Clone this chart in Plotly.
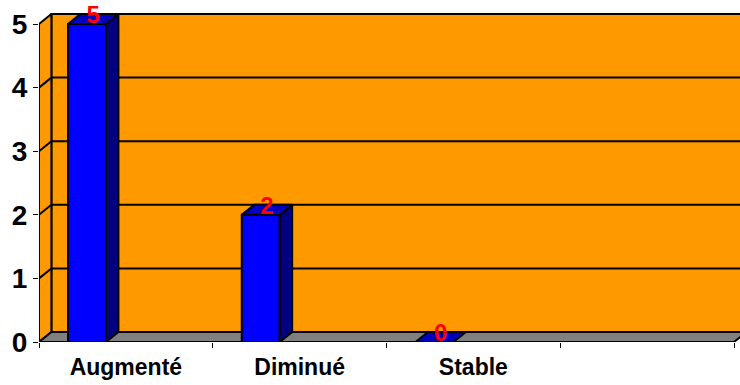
import plotly.graph_objects as go

# ---- data ----
categories = ["Augmenté", "Diminué", "Stable", ""]
values = [5, 2, 0]
y_ticks = [0, 1, 2, 3, 4, 5]

# ---- geometry of the pseudo-3D frame (in axis units) ----
W, H = 740, 385
PX_PER_CAT = 173.75
PX_PER_UNIT = 63.6
LEFT, BOTTOM = 39, 43
DX = 12.4 / PX_PER_CAT          # depth offset along x
DY = 10.0 / PX_PER_UNIT         # depth offset along y
BAR_OFF = 29 / PX_PER_CAT       # bar front-left offset from category start
BAR_W = 38 / PX_PER_CAT         # bar front width
LABEL_DROP = 3 / PX_PER_UNIT    # value labels sit just below the back top edge
YMAX = max(y_ticks)
XA, XB = -0.5, len(categories) - 0.5

WALL = "#FF9900"
FLOOR = "#808080"
FRONT = "#0000FF"
TOP = "#0000C0"
SIDE = "#000080"
FONT = "Arial, Liberation Sans, sans-serif"

fig = go.Figure()


def poly(xs, ys, fill, lw=2.0):
    fig.add_trace(go.Scatter(
        x=list(xs) + [xs[0]], y=list(ys) + [ys[0]],
        mode="lines", fill="toself", fillcolor=fill,
        line=dict(color="black", width=lw),
        hoverinfo="skip", showlegend=False))


def line(xs, ys, lw=2.0):
    fig.add_trace(go.Scatter(
        x=xs, y=ys, mode="lines", line=dict(color="black", width=lw),
        hoverinfo="skip", showlegend=False))


# back wall
poly([XA + DX, XB + DX, XB + DX, XA + DX], [DY, DY, YMAX + DY, YMAX + DY], WALL)
# side wall
poly([XA, XA + DX, XA + DX, XA], [0, DY, YMAX + DY, YMAX], WALL)
# floor
poly([XA, XB, XB + DX, XA + DX], [0, 0, DY, DY], FLOOR)

# gridlines across side wall and back wall
gx, gy = [], []
for k in y_ticks[1:-1]:
    gx += [XA, XA + DX, XB + DX, None]
    gy += [k, k + DY, k + DY, None]
line(gx, gy)

# bars
for i, v in enumerate(values):
    x0 = i - 0.5 + BAR_OFF
    x1 = x0 + BAR_W
    if v > 0:
        poly([x0, x1, x1, x0], [0, 0, v, v], FRONT)
        poly([x1, x1 + DX, x1 + DX, x1], [0, DY, v + DY, v], SIDE)
    poly([x0, x1, x1 + DX, x0 + DX], [v, v, v + DY, v + DY], TOP)

# data labels
fig.add_trace(go.Scatter(
    x=[i - 0.5 + BAR_OFF + BAR_W / 2 + DX / 2 for i in range(len(values))],
    y=[v + DY - LABEL_DROP for v in values],
    text=[f"<b>{v}</b>" for v in values],
    mode="text", textposition="middle center",
    textfont=dict(family=FONT, size=24, color="#FF0000"),
    hoverinfo="skip", showlegend=False, cliponaxis=False))

fig.update_layout(
    width=W, height=H,
    margin=dict(l=LEFT, r=0, t=0, b=BOTTOM),
    paper_bgcolor="white", plot_bgcolor="white",
    showlegend=False,
    xaxis=dict(
        range=[XA, XA + (W - LEFT) / PX_PER_CAT],
        tickvals=list(range(len(categories))), ticktext=categories,
        ticks="", showgrid=False, zeroline=False, showline=False,
        tickfont=dict(family=FONT, size=23, color="black", weight="bold"),
        ticklabelstandoff=9,
        minor=dict(tick0=-0.5, dtick=1, ticks="outside", ticklen=5,
                   tickcolor="black", tickwidth=1, showgrid=False),
        fixedrange=True),
    yaxis=dict(
        range=[0, (H - BOTTOM) / PX_PER_UNIT],
        tickvals=y_ticks, ticks="outside", ticklen=5,
        tickcolor="black", tickwidth=1,
        showgrid=False, zeroline=False, showline=False,
        tickfont=dict(family=FONT, size=28, color="black", weight="bold"),
        fixedrange=True),
)

fig.write_html("out.html")
